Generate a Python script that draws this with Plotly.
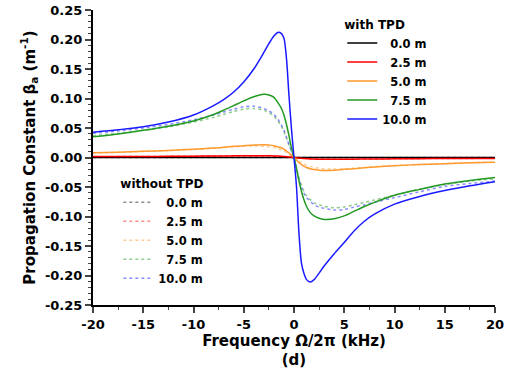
import plotly.graph_objects as go

# frequency grid (kHz)
freq = [-20, -17.5, -15, -12.5, -10, -8, -7, -6, -5, -4, -3, -2.5, -2, -1.6, -1.25, -1, -0.75, -0.5, -0.25, 0,
        0.25, 0.5, 0.75, 1, 1.25, 1.6, 2, 2.5, 3, 4, 5, 6, 7, 8, 10, 12.5, 15, 17.5, 20]

# with TPD
tpd_00 = [0.0] * 39
tpd_25 = [0.0015, 0.0016, 0.0018, 0.0020, 0.0022, 0.0025, 0.0026, 0.0028, 0.0029, 0.0030, 0.0030, 0.0029, 0.0027, 0.0024, 0.0021, 0.0018, 0.0014, 0.0010, 0.0005, 0.0,
          -0.0005, -0.0010, -0.0014, -0.0018, -0.0021, -0.0024, -0.0027, -0.0029, -0.0030, -0.0030, -0.0029, -0.0028, -0.0026, -0.0025, -0.0022, -0.0020, -0.0018, -0.0016, -0.0015]
tpd_50 = [0.008, 0.009, 0.0105, 0.012, 0.014, 0.016, 0.0175, 0.019, 0.020, 0.021, 0.0215, 0.021, 0.020, 0.018, 0.0165, 0.014, 0.011, 0.008, 0.004, 0.0,
          -0.004, -0.009, -0.012, -0.015, -0.017, -0.019, -0.0205, -0.0215, -0.022, -0.0215, -0.020, -0.019, -0.0175, -0.016, -0.014, -0.012, -0.0105, -0.009, -0.008]
tpd_75 = [0.035, 0.040, 0.046, 0.053, 0.062, 0.073, 0.080, 0.088, 0.096, 0.103, 0.107, 0.106, 0.102, 0.093, 0.083, 0.072, 0.056, 0.037, 0.016, 0.0,
          -0.019, -0.040, -0.058, -0.072, -0.083, -0.093, -0.099, -0.103, -0.105, -0.104, -0.099, -0.091, -0.083, -0.076, -0.064, -0.054, -0.045, -0.039, -0.034]
tpd_100 = [0.043, 0.047, 0.052, 0.060, 0.072, 0.088, 0.098, 0.111, 0.128, 0.150, 0.178, 0.193, 0.206, 0.212, 0.210, 0.202, 0.168, 0.105, 0.048, 0.0,
           -0.050, -0.130, -0.180, -0.197, -0.207, -0.211, -0.207, -0.196, -0.184, -0.163, -0.144, -0.124, -0.108, -0.096, -0.079, -0.066, -0.056, -0.048, -0.041]

# without TPD
no_00 = [0.0] * 39
no_25 = [0.0014, 0.0015, 0.0017, 0.0019, 0.0021, 0.0024, 0.0025, 0.0026, 0.0027, 0.0027, 0.0026, 0.0025, 0.0023, 0.0020, 0.0017, 0.0014, 0.0011, 0.0008, 0.0004, 0.0,
         -0.0004, -0.0008, -0.0011, -0.0014, -0.0017, -0.0020, -0.0023, -0.0025, -0.0026, -0.0027, -0.0027, -0.0026, -0.0025, -0.0024, -0.0021, -0.0019, -0.0017, -0.0015, -0.0014]
no_50 = [0.0078, 0.0088, 0.0102, 0.0117, 0.0135, 0.0155, 0.0168, 0.018, 0.019, 0.0195, 0.019, 0.018, 0.0168, 0.015, 0.013, 0.011, 0.0085, 0.006, 0.003, 0.0,
         -0.003, -0.006, -0.0085, -0.011, -0.013, -0.015, -0.0168, -0.018, -0.019, -0.0195, -0.019, -0.018, -0.0168, -0.0155, -0.0135, -0.0117, -0.0102, -0.0088, -0.0078]
no_75 = [0.037, 0.041, 0.046, 0.052, 0.060, 0.068, 0.073, 0.078, 0.082, 0.083, 0.080, 0.076, 0.070, 0.062, 0.053, 0.044, 0.033, 0.021, 0.010, 0.0,
         -0.018, -0.035, -0.048, -0.058, -0.065, -0.071, -0.077, -0.080, -0.083, -0.085, -0.084, -0.080, -0.076, -0.072, -0.064, -0.054, -0.046, -0.040, -0.036]
no_100 = [0.041, 0.045, 0.050, 0.056, 0.064, 0.072, 0.077, 0.082, 0.086, 0.087, 0.083, 0.079, 0.073, 0.065, 0.055, 0.046, 0.034, 0.022, 0.011, 0.0,
          -0.019, -0.037, -0.051, -0.061, -0.068, -0.074, -0.080, -0.084, -0.086, -0.089, -0.088, -0.084, -0.080, -0.076, -0.068, -0.058, -0.049, -0.044, -0.040]

labels = ["\u20070.0 m", "\u20072.5 m", "\u20075.0 m", "\u20077.5 m", "10.0 m"]
colors = ["#000000", "#ff0000", "#ff9a2e", "#229922", "#1a1aff"]
dash_colors = ["rgba(0,0,0,0.45)", "rgba(255,0,0,0.45)", "rgba(255,154,46,0.5)", "rgba(34,153,34,0.5)", "rgba(26,26,255,0.5)"]

with_series = [tpd_00, tpd_25, tpd_50, tpd_75, tpd_100]
without_series = [no_00, no_25, no_50, no_75, no_100]

x_ticks = [-20, -15, -10, -5, 0, 5, 10, 15, 20]
y_ticks = [0.25, 0.20, 0.15, 0.10, 0.05, 0.00, -0.05, -0.10, -0.15, -0.20, -0.25]
y_ticktext = ["%.2f" % v if v >= 0 else "-%.2f" % abs(v) for v in y_ticks]
x_ticktext = [str(v) if v >= 0 else "-" + str(abs(v)) for v in x_ticks]

FONT = "DejaVu Sans"

fig = go.Figure()
for lab, col, ys in zip(labels, dash_colors, without_series):
    fig.add_trace(go.Scatter(x=freq, y=ys, mode="lines", name=lab, legend="legend2",
                             line=dict(color=col, width=1.5, dash="dot", shape="spline", smoothing=0.8)))
for lab, col, ys in zip(labels, colors, with_series):
    fig.add_trace(go.Scatter(x=freq, y=ys, mode="lines", name=lab, legend="legend",
                             line=dict(color=col, width=1.5, shape="spline", smoothing=0.8)))

fig.update_layout(
    width=509, height=378,
    margin=dict(l=93, r=14, t=10, b=73),
    paper_bgcolor="white", plot_bgcolor="white",
    font=dict(family=FONT, size=13, color="black", weight="bold"),
    legend=dict(x=0.62, y=0.99, xanchor="left", yanchor="top", bgcolor="rgba(0,0,0,0)",
                title=dict(text="with TPD", font=dict(size=12, family=FONT, weight="bold")),
                font=dict(size=11.5, family=FONT, weight="bold"), traceorder="normal", itemwidth=30),
    legend2=dict(x=0.063, y=0.45, xanchor="left", yanchor="top", bgcolor="rgba(0,0,0,0)",
                 title=dict(text="without TPD", font=dict(size=12, family=FONT, weight="bold")),
                 font=dict(size=11.5, family=FONT, weight="bold"), traceorder="normal", itemwidth=30),
    xaxis=dict(range=[-20, 20], tickvals=x_ticks, ticktext=x_ticktext, ticks="outside", ticklen=6, tickwidth=1.5,
               showline=True, linecolor="black", linewidth=2, showgrid=False, zeroline=False, automargin=False,
               minor=dict(dtick=2.5, ticks="outside", ticklen=3, tickwidth=1.2, showgrid=False),
               tickfont=dict(size=13, family=FONT, weight="bold"),
               title=dict(text="Frequency \u03a9/2\u03c0 (kHz)<br>(d)", font=dict(size=15, family=FONT, weight="bold"), standoff=4)),
    yaxis=dict(range=[-0.25, 0.25], tickvals=y_ticks, ticktext=y_ticktext, ticks="outside", ticklen=6, tickwidth=1.5,
               showline=True, linecolor="black", linewidth=2, showgrid=False, zeroline=False, automargin=False,
               minor=dict(dtick=0.01, ticks="outside", ticklen=3, tickwidth=1.2, showgrid=False),
               tickfont=dict(size=13, family=FONT, weight="bold"),
               title=dict(text="Propagation Constant \u03b2<sub>a</sub> (m<sup>-1</sup>)", font=dict(size=15, family=FONT, weight="bold"), standoff=6)),
)

fig.write_html("out.html")
